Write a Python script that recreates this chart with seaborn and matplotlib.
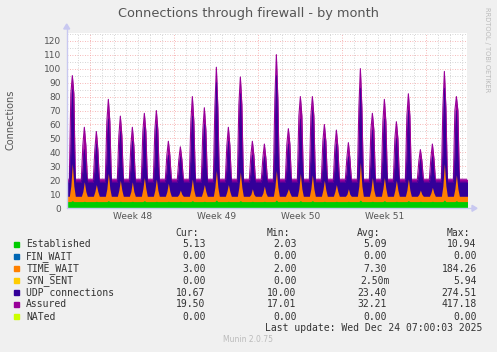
import numpy as np
import pandas as pd
import seaborn as sns
import matplotlib.pyplot as plt
from matplotlib.patches import Rectangle

# daily peak values (stacked totals), one per day Nov 22 .. Dec 24
assured_peak = [95, 58, 55, 78, 66, 58, 68, 70, 48, 44, 80, 72, 101, 58, 94, 48, 46,
                110, 57, 80, 80, 60, 56, 47, 100, 68, 78, 62, 82, 42, 46, 98, 80]
assured_sh = [82, 45, 42, 62, 52, 45, 55, 56, 38, 35, 62, 56, 72, 45, 74, 38, 36,
              78, 46, 66, 66, 48, 44, 36, 72, 56, 62, 50, 66, 34, 36, 72, 70]
udp_peak = [85, 42, 46, 64, 55, 48, 58, 60, 38, 37, 66, 60, 90, 48, 82, 38, 37,
            95, 46, 64, 70, 50, 46, 37, 86, 56, 64, 50, 70, 35, 37, 86, 70]
udp_sh = [40, 26, 26, 32, 30, 27, 30, 30, 25, 24, 34, 30, 38, 27, 38, 24, 24,
          40, 27, 34, 34, 28, 27, 24, 38, 30, 34, 29, 34, 23, 24, 38, 36]
tw_peak = [32, 19, 17, 25, 20, 19, 22, 21, 18, 13, 21, 17, 27, 17, 26, 14, 16,
           27, 14, 25, 24, 20, 17, 14, 33, 22, 22, 20, 21, 13, 15, 32, 24]
tw_sh = [16, 12, 12, 14, 13, 12, 14, 13, 12, 10, 13, 12, 15, 12, 15, 10, 11,
         15, 11, 14, 14, 13, 12, 10, 16, 13, 14, 13, 13, 10, 11, 16, 14]
est_peak = [5.5, 5, 5, 5.5, 5, 5, 5.5, 5, 5, 5, 5.5, 5, 6, 5, 5.5, 5, 5,
            6, 5, 5.5, 5.5, 5, 5, 5, 6, 5, 5.5, 5, 5.5, 5, 5, 6, 5.5]

# night-time levels (stacked tops)
est_night = 4.8
tw_night = 8.6
udp_night = 18.8
assured_night = 20.8

legend_rows = [
    ("Established", "#00CC00", "5.13", "2.03", "5.09", "10.94"),
    ("FIN_WAIT", "#0066B3", "0.00", "0.00", "0.00", "0.00"),
    ("TIME_WAIT", "#FF8000", "3.00", "2.00", "7.30", "184.26"),
    ("SYN_SENT", "#FFCC00", "0.00", "0.00", "2.50m", "5.94"),
    ("UDP connections", "#330099", "10.67", "10.00", "23.40", "274.51"),
    ("Assured", "#990099", "19.50", "17.01", "32.21", "417.18"),
    ("NATed", "#CCFF00", "0.00", "0.00", "0.00", "0.00"),
]
week_labels = ["Week 48", "Week 49", "Week 50", "Week 51"]
week_starts = [1, 8, 15, 22, 29]  # days since Nov 23 00:00

# build the sample table: 00h, 06h, 09h, 12h, 15h, 18h each day
hours = [0, 6, 9, 12, 15, 18]
kind = ["n", "n", "s", "p", "s", "n"]
rows = []
for d in range(len(assured_peak)):
    for h, k in zip(hours, kind):
        pick = {"n": (est_night, tw_night, udp_night, assured_night),
                "s": (est_night, tw_sh[d], udp_sh[d], assured_sh[d]),
                "p": (est_peak[d], tw_peak[d], udp_peak[d], assured_peak[d])}[k]
        rows.append({"t": d - 1 + h / 24, "est": pick[0], "tw": pick[1],
                     "udp": pick[2], "assured": pick[3]})
for h in [0, 6, 12]:
    rows.append({"t": len(assured_peak) - 1 + h / 24, "est": est_night,
                 "tw": tw_night, "udp": udp_night, "assured": assured_night})
df = pd.DataFrame(rows)

sns.set_theme(style="white")
plt.rcParams["font.family"] = ["DejaVu Sans"]

W, H = 497, 352
fig = plt.figure(figsize=(W / 100, H / 100), dpi=100, facecolor="#F0F0F0")
x0, x1, ytop, ybot = 66.7, 466.7, 33.0, 208.3
ax = fig.add_axes([x0 / W, 1 - ybot / H, (x1 - x0) / W, (ybot - ytop) / H])
ax.set_facecolor("white")

xmin, xmax = -0.97, 32.36
ymax = 125.5
ax.set_xlim(xmin, xmax)
ax.set_ylim(0, ymax)

# grid
for v in np.arange(5, ymax, 10):
    ax.axhline(v, color="#C8C8C8", lw=0.6, ls=(0, (1, 2)), zorder=0.5)
for v in np.arange(10, ymax, 10):
    ax.axhline(v, color="#F4A0A0", lw=0.6, ls=(0, (1, 2)), zorder=0.5)
for v in np.arange(0, xmax, 1):
    if v not in week_starts:
        ax.axvline(v, color="#C8C8C8", lw=0.6, ls=(0, (1, 2)), zorder=0.5)
for v in week_starts:
    ax.axvline(v, color="#F4A0A0", lw=0.6, ls=(0, (1, 2)), zorder=0.5)

# stacked areas
ax.fill_between(df["t"], 0, df["assured"], color="#990099", lw=0, zorder=1)
ax.fill_between(df["t"], 0, df["udp"], color="#330099", lw=0, zorder=2)
ax.fill_between(df["t"], 0, df["tw"], color="#FF8000", lw=0, zorder=3)
ax.fill_between(df["t"], 0, df["est"], color="#00CC00", lw=0, zorder=4)
sns.lineplot(data=df, x="t", y="assured", ax=ax, color="#990099", lw=0.8, zorder=1.5)
sns.lineplot(data=df, x="t", y="udp", ax=ax, color="#330099", lw=0.5, zorder=2.5)

ax.set_yticks(np.arange(0, 121, 10))
ax.set_yticklabels([str(v) for v in range(0, 121, 10)], fontsize=6.5, color="#555555")
ax.tick_params(axis="y", length=0, pad=4)
ax.set_xticks([ws + 3.5 for ws in week_starts[:4]])
ax.set_xticklabels(week_labels, fontsize=6.5, color="#555555")
ax.tick_params(axis="x", length=0, pad=3)
ax.set_xlabel("")
ax.set_ylabel("")
for s in ax.spines.values():
    s.set_visible(False)

# axis lines with arrows
axis_col = "#C8C8F0"
fig.add_artist(plt.Line2D([x0 / W, x0 / W], [1 - ybot / H, 1 - 27 / H], color=axis_col, lw=1,
                          transform=fig.transFigure))
fig.add_artist(plt.Line2D([x0 / W, 474 / W], [1 - ybot / H, 1 - ybot / H], color=axis_col, lw=1,
                          transform=fig.transFigure))
fig.patches.append(plt.Polygon([[(x0 - 3) / W, 1 - 29 / H], [(x0 + 3) / W, 1 - 29 / H],
                                [x0 / W, 1 - 24 / H]], closed=True, color=axis_col,
                               transform=fig.transFigure))
fig.patches.append(plt.Polygon([[472 / W, 1 - (ybot - 3) / H], [472 / W, 1 - (ybot + 3) / H],
                                [477 / W, 1 - ybot / H]], closed=True, color=axis_col,
                               transform=fig.transFigure))

def px(x, y):
    return x / W, 1 - y / H

fig.text(*px(248, 13), "Connections through firewall - by month", fontsize=9.3,
         color="#555555", ha="center", va="center")
fig.text(*px(11, 120), "Connections", fontsize=7, color="#555555", rotation=90,
         ha="center", va="center")
fig.text(*px(487, 7), "RRDTOOL / TOBI OETIKER", fontsize=4.8, color="#BBBBBB",
         rotation=270, ha="center", va="top")

mono = "DejaVu Sans Mono"
fs = 7
cols_r = [205.7, 296.7, 386.7, 476.7]
heads = ["Cur:", "Min:", "Avg:", "Max:"]
heads_r = [199, 290, 380, 470]
for h, xr in zip(heads, heads_r):
    fig.text(*px(xr, 233.3), h, family=mono, fontsize=fs, color="#333333",
             ha="right", va="center")
row_y = [244.3, 256.3, 268.7, 280.7, 292.7, 304.3, 316.7]
for (name, col, cur, mn, avg, mx), y in zip(legend_rows, row_y):
    fig.patches.append(Rectangle(px(14, y + 2.6), 5.3 / W, 5.3 / H, color=col,
                                 transform=fig.transFigure))
    fig.text(*px(26.3, y), name, family=mono, fontsize=fs, color="#333333",
             ha="left", va="center")
    for val, xr in zip([cur, mn, avg, mx], cols_r):
        if val.endswith("m"):
            xr = xr + 3.3
        fig.text(*px(xr, y), val, family=mono, fontsize=fs, color="#333333",
                 ha="right", va="center")
fig.text(*px(482, 328.3), "Last update: Wed Dec 24 07:00:03 2025", family=mono,
         fontsize=fs, color="#333333", ha="right", va="center")
fig.text(*px(248, 340), "Munin 2.0.75", fontsize=5.5, color="#BBBBBB",
         ha="center", va="center")

fig.savefig("out.png", dpi=100, facecolor="#F0F0F0")
